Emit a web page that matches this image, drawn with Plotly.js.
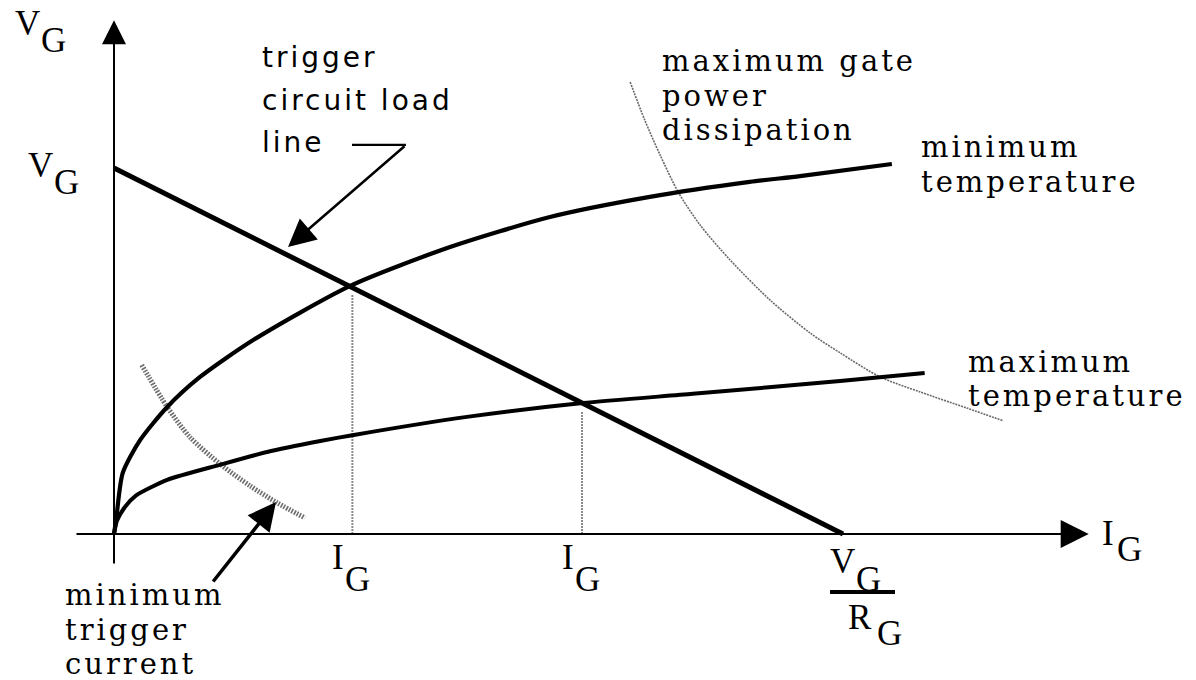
<!DOCTYPE html>
<html><head><meta charset="utf-8">
<script src="https://cdn.plot.ly/plotly-3.0.1.min.js"></script>
<style>
html,body{margin:0;padding:0;background:#fff;}
#chart{width:1196px;height:680px;}
</style></head><body><div id="chart"></div>
<script>
// Gate characteristic of a thyristor (arbitrary units: V_G/R_G = 10 on I axis, V_G = 10 on V axis)
const loadI = [0, 10];
const loadV = [10, 0];

const minTempI = [0, 0.03, 0.12, 0.36, 0.73, 1.18, 1.91, 3.24, 4.61, 5.98, 7.35, 8.72, 9.41, 10.67];
const minTempV = [0, 0.40, 1.67, 2.57, 3.47, 4.29, 5.30, 6.78, 7.84, 8.66, 9.21, 9.62, 9.78, 10.11];

const maxTempI = [0, 0.04, 0.15, 0.30, 0.73, 1.45, 2.10, 2.83, 3.27, 4.84, 6.43, 7.94, 9.96, 11.12];
const maxTempV = [0, 0.36, 0.74, 1.05, 1.48, 1.89, 2.24, 2.54, 2.70, 3.20, 3.58, 3.83, 4.18, 4.40];

const trigI = [0.38, 0.73, 1.04, 1.47, 1.87, 2.24, 2.62];
const trigV = [4.62, 3.47, 2.65, 1.89, 1.31, 0.85, 0.44];

const powerI = [7.08, 7.28, 7.49, 7.74, 8.04, 8.45, 9.00, 9.55, 9.96, 10.51, 11.06, 11.70, 12.20];
const powerV = [12.35, 11.31, 10.36, 9.34, 8.44, 7.49, 6.39, 5.49, 4.95, 4.29, 3.88, 3.44, 3.09];

const dropI = [3.27, 6.42];
const dropTop = [6.53, 3.34];

const xRange = [-1.5638, 14.842];
const yRange = [-3.989, 14.590];

const W = 1196, H = 680;
const px = v => v / W;
const py = v => 1 - v / H;

const traces = [];
dropI.forEach((d, i) => traces.push({x: [d, d], y: [0, dropTop[i]], mode: 'lines',
  line: {color: '#8a8a8a', width: 2, dash: '2px,1px'}}));
traces.push({x: powerI, y: powerV, mode: 'lines', line: {color: '#6a6a6a', width: 1.6, dash: '2px,1px', shape: 'spline', smoothing: 0.8}});
traces.push({x: trigI, y: trigV, mode: 'lines', line: {color: '#6e6e6e', width: 5, dash: '1.6px,1.4px', shape: 'spline', smoothing: 0.8}});
traces.push({x: minTempI, y: minTempV, mode: 'lines', line: {color: '#000', width: 4.2, shape: 'spline', smoothing: 0.7}});
traces.push({x: maxTempI, y: maxTempV, mode: 'lines', line: {color: '#000', width: 4, shape: 'spline', smoothing: 0.6}});
traces.push({x: loadI, y: loadV, mode: 'lines', line: {color: '#000', width: 5}});
traces.push({x: [3.265, 4.005], y: [10.63, 10.63], mode: 'lines', line: {color: '#000', width: 2.2}});

const ann = [];
function arrow(x0, y0, x1, y1, w, s) {
  ann.push({x: x1, y: y1, ax: x0, ay: y0, xref: 'x', yref: 'y', axref: 'x', ayref: 'y',
    text: '', showarrow: true, arrowhead: 2, arrowwidth: w, arrowsize: s, arrowcolor: '#000', standoff: 0});
}
arrow(-0.535, 0, 13.37, 0, 2, 2.8);
arrow(0, -0.85, 0, 14.04, 2, 2.4);
arrow(4.005, 10.63, 2.387, 7.842, 2.5, 2.2);
arrow(1.344, -1.339, 2.222, 0.874, 3.5, 1.6);

function word(t, left, base, fam, size, shift) {
  ann.push({x: px(left), y: py(base - shift), xref: 'paper', yref: 'paper', xanchor: 'left', yanchor: 'middle',
    text: '<span style="letter-spacing:3px">' + t + '</span>', showarrow: false, borderpad: 0,
    font: {family: fam, size: size, color: '#000'}});
}
const SERIF = 'DejaVu Serif', SANS = 'DejaVu Sans';
const SS = 29;
word('maximum gate', 661, 71, SERIF, SS, 10);
word('power', 661, 106, SERIF, SS, 10);
word('dissipation', 661, 140, SERIF, SS, 10);
word('minimum', 920, 157, SERIF, SS, 10);
word('temperature', 920, 192, SERIF, SS, 10);
word('maximum', 967, 372, SERIF, SS, 10);
word('temperature', 967, 406, SERIF, SS, 10);
word('minimum', 64, 605, SERIF, SS, 10);
word('trigger', 64, 640, SERIF, SS, 10);
word('current', 64, 674, SERIF, SS, 10);
word('trigger', 261, 67, SANS, 28, 10);
word('circuit load', 261, 110, SANS, 28, 10);
word('line', 261, 152, SANS, 28, 10);

function glyph(t, cx, cy) {
  ann.push({x: px(cx), y: py(cy), xref: 'paper', yref: 'paper', xanchor: 'center', yanchor: 'middle',
    text: t, showarrow: false, borderpad: 0, font: {family: 'Liberation Serif', size: 35, color: '#000'}});
}
glyph('V', 27.5, 23.5); glyph('G', 53.5, 40.5);
glyph('V', 40, 165); glyph('G', 66, 182.5);
glyph('I', 337.5, 557.5); glyph('G', 357, 579.5);
glyph('I', 567.5, 557.5); glyph('G', 587, 579.5);
glyph('I', 1108, 533); glyph('G', 1129, 549.5);
glyph('V', 842, 561); glyph('G', 868, 579);
glyph('R', 860, 617.5); glyph('G', 889.5, 633.5);

const shapes = [{type: 'line', xref: 'paper', yref: 'paper', x0: px(830), x1: px(895), y0: py(592), y1: py(592),
  line: {color: '#000', width: 4}}];

const layout = {
  width: W, height: H, margin: {l: 0, r: 0, t: 0, b: 0},
  paper_bgcolor: '#fff', plot_bgcolor: '#fff', showlegend: false, hovermode: false,
  xaxis: {range: xRange, visible: false, fixedrange: true},
  yaxis: {range: yRange, visible: false, fixedrange: true},
  annotations: ann, shapes: shapes
};
Plotly.newPlot('chart', traces, layout, {staticPlot: true});
</script></body></html>
